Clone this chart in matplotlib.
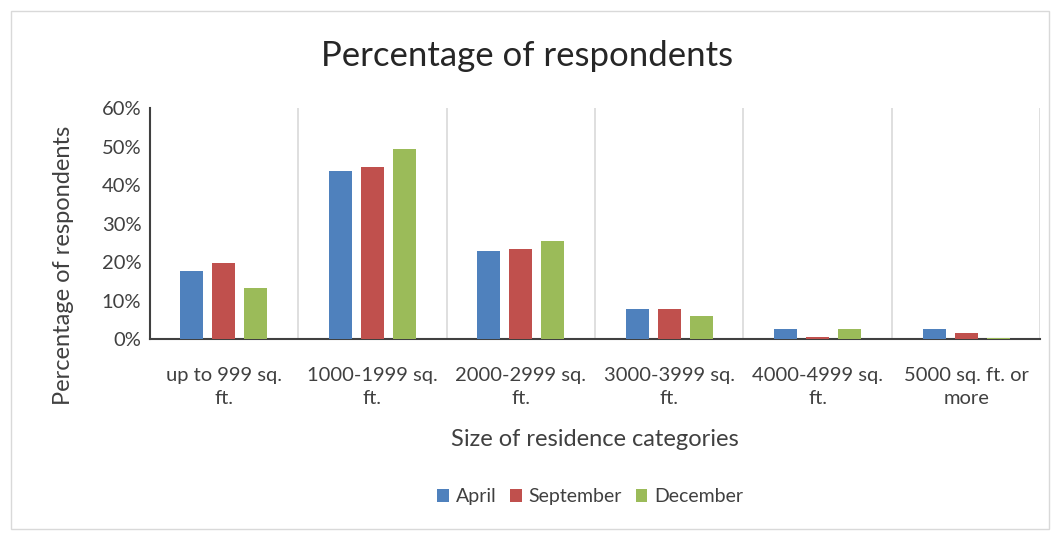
import matplotlib
matplotlib.use("Agg")
from matplotlib import pyplot as plt
from matplotlib.patches import Rectangle
from matplotlib.ticker import FuncFormatter
import numpy as np

categories = ["up to 999 sq.\nft.", "1000-1999 sq.\nft.", "2000-2999 sq.\nft.",
              "3000-3999 sq.\nft.", "4000-4999 sq.\nft.", "5000 sq. ft. or\nmore"]
april = [17.7, 43.7, 22.9, 7.8, 2.5, 2.5]
september = [19.7, 44.6, 23.4, 7.7, 0.6, 1.5]
december = [13.4, 49.4, 25.5, 5.9, 2.5, 0.4]
series_names = ["April", "September", "December"]
colors = ["#4F81BD", "#C0504D", "#9BBB59"]

plt.rcParams["font.family"] = ["Lato", "DejaVu Sans"]
fig = plt.figure(figsize=(10.54, 5.4), dpi=100)
ax = fig.add_axes([0.142, 0.372, 0.845, 0.428])

x = np.arange(len(categories))
width = 0.155
step = 0.216
bars = []
for i, (vals, name, col) in enumerate(zip([april, september, december], series_names, colors)):
    b = ax.bar(x + (i - 1) * step, np.array(vals) / 100, width, color=col, label=name, zorder=3)
    bars.append(b)

ax.set_xlim(-0.5, len(categories) - 0.5)
ax.set_ylim(0, 0.6)
ax.set_yticks(np.arange(0, 0.61, 0.1))
ax.yaxis.set_major_formatter(FuncFormatter(lambda v, p: f"{v * 100:.0f}%"))
ax.set_xticks(x, categories)
for b in np.arange(0.5, len(categories), 1):
    ax.axvline(b, color="#d9d9d9", lw=1.2, zorder=1)

for s in ["top", "right"]:
    ax.spines[s].set_visible(False)
ax.spines["left"].set_color("#404040")
ax.spines["bottom"].set_color("#404040")
ax.spines["left"].set_linewidth(1.5)
ax.spines["bottom"].set_linewidth(1.5)
ax.tick_params(axis="x", length=0, labelsize=14.5, colors="#404040", pad=20)
ax.tick_params(axis="y", length=0, labelsize=14.5, colors="#404040", pad=6)
for lbl in ax.get_xticklabels():
    lbl.set_linespacing(1.45)

ax.set_ylabel("Percentage of respondents", fontsize=17, color="#404040")
ax.yaxis.set_label_coords(-0.085, 0.32)
ax.set_xlabel("Size of residence categories", fontsize=17, color="#404040")
ax.xaxis.set_label_coords(0.5, -0.39)
fig.suptitle("Percentage of respondents", y=0.925, fontsize=25, color="#262626")

fig.legend(handles=bars, loc="center", bbox_to_anchor=(0.56, 0.08), ncol=3, frameon=False,
           fontsize=14, handlelength=0.6, handleheight=0.6, handletextpad=0.35, columnspacing=0.7,
           labelcolor="#404040")

fig.patches.append(Rectangle((0.01, 0.02), 0.985, 0.96, transform=fig.transFigure,
                             fill=False, edgecolor="#d9d9d9", lw=1))

plt.savefig("out.png", dpi=100)
